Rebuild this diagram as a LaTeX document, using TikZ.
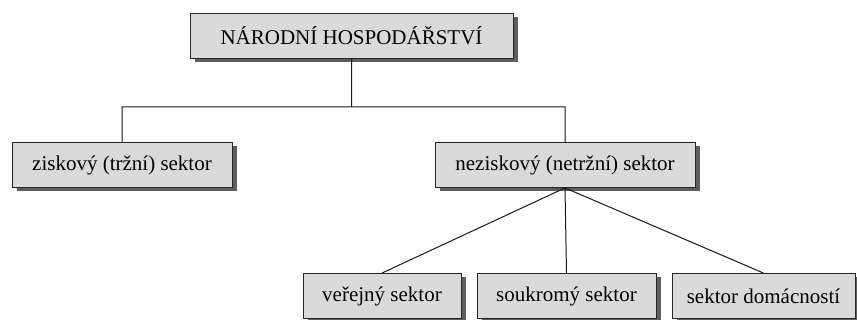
\documentclass[tikz,border=0pt]{standalone}
\usepackage{fontspec}
\setmainfont{Liberation Serif}
\newfontfamily\sectorfont{Liberation Serif}
\usetikzlibrary{positioning, shadows}

\definecolor{boxgray}{HTML}{DADADA}
\definecolor{shadowgray}{HTML}{5E5E5E}

\begin{document}
\begin{tikzpicture}[x=1pt, y=-1pt, node distance=2cm, on grid,
    sector/.style={draw=black!85, line width=0.9pt, fill=boxgray, minimum height=45pt,
        inner sep=0pt, font=\sectorfont\fontsize{21}{25}\selectfont,
        drop shadow={shadow xshift=5pt, shadow yshift=-4pt, fill=shadowgray, opacity=1}},
    link/.style={draw=black!90, line width=1pt}]
    \useasboundingbox (0,0) rectangle (857,320);
    \node[sector, minimum width=323pt] (nh) at (351.5,35.5) {NÁRODNÍ HOSPODÁŘSTVÍ};
    \node[sector, minimum width=220pt] (zisk) [below left=129.5pt and 229.5pt of nh] {ziskový (tržní) sektor};
    \node[sector, minimum width=260pt] (nezisk) [right=443pt of zisk] {neziskový (netržní) sektor};
    \node[sector, minimum width=158pt] (verejny) [below left=131pt and 183pt of nezisk] {veřejný sektor};
    \node[sector, minimum width=179pt] (soukromy) [right=184.5pt of verejny] {soukromý sektor};
    \node[sector, minimum width=183pt] (domacnosti) [right=197pt of soukromy] {sektor domácností};
    \coordinate (split) at (351.5,107);
        \path[link]
        (nh.south) -- (split)
        (zisk.north) |- (split) -| (nezisk.north)
        (nezisk.south) -- (verejny.north)
        (nezisk.south) -- (soukromy.north)
        (nezisk.south) -- (domacnosti.north);
\end{tikzpicture}
\end{document}
